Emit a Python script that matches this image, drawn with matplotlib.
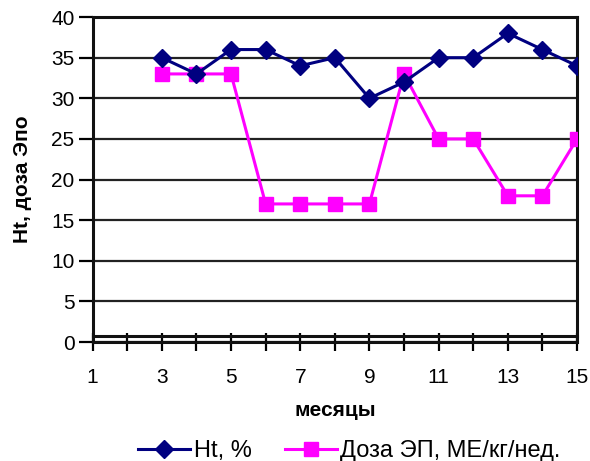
import matplotlib.pyplot as plt
from matplotlib.transforms import ScaledTranslation

plt.rcParams['font.family'] = ['Liberation Sans', 'DejaVu Sans']

# months and the two series
months = [3, 4, 5, 6, 7, 8, 9, 10, 11, 12, 13, 14, 15]
ht = [35, 33, 36, 36, 34, 35, 30, 32, 35, 35, 38, 36, 34]
dose = [33, 33, 33, 17, 17, 17, 17, 33, 25, 25, 18, 18, 25]

fig = plt.figure(figsize=(5.9, 4.61), dpi=100)
ax = fig.add_axes([0.157, 0.258, 0.821, 0.705])

ax.plot(months, ht, color='#000080', lw=2.2, marker='D', ms=9,
        label='Ht, %', zorder=4)
ax.plot(months, dose, color='#FF00FF', lw=2.2, marker='s', ms=10,
        label='Доза ЭП, МЕ/кг/нед.', zorder=3)

ax.set_xlim(1, 15)
ax.set_ylim(0, 40)
ax.set_yticks(range(0, 41, 5))
ax.set_xticks(range(1, 16))
ax.set_xticklabels([str(m) if m % 2 else '' for m in range(1, 16)])
ax.yaxis.grid(True, color='#222222', lw=1.6)
ax.set_axisbelow(True)

for s in ax.spines.values():
    s.set_linewidth(2.2)
    s.set_color('#111111')
# plot-area border sits a few pixels above the category axis
shift = ax.transAxes + ScaledTranslation(0, 0.06, fig.dpi_scale_trans)
ax.plot([0, 1], [0, 0], color='#111111', lw=2.2, transform=shift,
        clip_on=False, zorder=2)

ax.tick_params(axis='y', direction='out', length=10, width=1.6,
               labelsize=15, pad=3)
ax.tick_params(axis='x', direction='inout', length=13, width=1.6,
               labelsize=15, pad=12)

ax.set_ylabel('Ht, доза Эпо', fontsize=15, fontweight='bold', labelpad=14)
ax.set_xlabel('месяцы', fontsize=15, fontweight='bold', labelpad=10)

ax.legend(loc='center', bbox_to_anchor=(0.53, -0.335), ncol=2,
          frameon=False, fontsize=17, handlelength=2.2, handletextpad=0.15,
          columnspacing=1.4, borderpad=0)

plt.savefig('out.png', dpi=100)
